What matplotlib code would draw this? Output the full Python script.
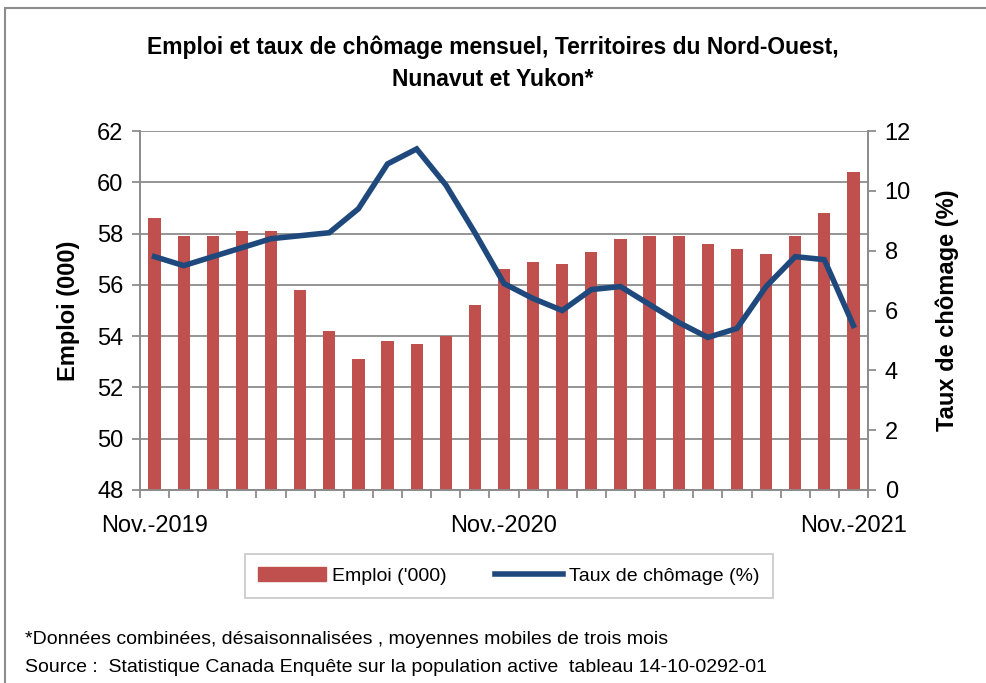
import matplotlib
matplotlib.use("Agg")
import matplotlib.pyplot as plt
import matplotlib.patches as mpatches
from matplotlib.lines import Line2D
import numpy as np

# ── données ────────────────────────────────────────────────────────────────
mois = ["Nov.-2019", "Déc.-2019", "Jan.-2020", "Fév.-2020", "Mars-2020", "Avr.-2020",
        "Mai-2020", "Juin-2020", "Juil.-2020", "Août-2020", "Sept.-2020", "Oct.-2020",
        "Nov.-2020", "Déc.-2020", "Jan.-2021", "Fév.-2021", "Mars-2021", "Avr.-2021",
        "Mai-2021", "Juin-2021", "Juil.-2021", "Août-2021", "Sept.-2021", "Oct.-2021",
        "Nov.-2021"]
emploi = [58.6, 57.9, 57.9, 58.1, 58.1, 55.8, 54.2, 53.1, 53.8, 53.7, 54.0, 55.2,
          56.6, 56.9, 56.8, 57.3, 57.8, 57.9, 57.9, 57.6, 57.4, 57.2, 57.9, 58.8, 60.4]
chomage = [7.8, 7.5, 7.8, 8.1, 8.4, 8.5, 8.6, 9.4, 10.9, 11.4, 10.2, 8.6,
           6.9, 6.4, 6.0, 6.7, 6.8, 6.2, 5.6, 5.1, 5.4, 6.8, 7.8, 7.7, 5.5]
etiquettes = {0: "Nov.-2019", 12: "Nov.-2020", 24: "Nov.-2021"}

ROUGE = "#C0504D"
BLEU = "#1F497D"
GRIS = "#8C8C8C"

plt.rcParams["font.family"] = ["Liberation Sans", "DejaVu Sans"]

fig = plt.figure(figsize=(9.86, 6.83), dpi=100)
ax = fig.add_axes([140 / 986, 1 - 490 / 683, 728 / 986, 359 / 683])
ax2 = ax.twinx()

x = np.arange(len(mois))
ax.bar(x, emploi, width=0.42, color=ROUGE, zorder=3)
ax2.plot(x, chomage, color=BLEU, linewidth=4, solid_joinstyle="miter", zorder=4)

ax.set_xlim(-0.5, len(mois) - 0.5)
ax.set_ylim(48, 62)
ax.set_yticks(np.arange(48, 63, 2))
ax2.set_ylim(0, 12)
ax2.set_yticks(np.arange(0, 13, 2))
ax.yaxis.grid(True, color=GRIS, linewidth=1.3, zorder=0)
ax.set_axisbelow(True)

# ticks de catégories
ax.set_xticks(np.arange(-0.5, len(mois), 1), minor=True)
ax.set_xticks(list(etiquettes.keys()))
ax.set_xticklabels(list(etiquettes.values()), fontsize=17)
ax.tick_params(axis="x", which="major", length=0, pad=18)
ax.tick_params(axis="x", which="minor", length=6, color=GRIS, width=1.3)
ax.tick_params(axis="y", labelsize=17, length=6, color=GRIS, width=1.3, pad=6)
ax2.tick_params(axis="y", labelsize=17, length=6, color=GRIS, width=1.3, pad=6)

for a in (ax, ax2):
    for s in a.spines.values():
        s.set_color(GRIS)
        s.set_linewidth(1.3)
    a.spines["top"].set_visible(False)

ax.set_ylabel("Emploi (000)", fontsize=17, fontweight="bold", labelpad=12)
ax2.set_ylabel("Taux de chômage (%)", fontsize=17, fontweight="bold", labelpad=18)

fig.text(0.5, 1 - 47 / 683, "Emploi et taux de chômage mensuel, Territoires du Nord-Ouest,",
         ha="center", va="center", fontsize=16.5, fontweight="bold")
fig.text(0.5, 1 - 80 / 683, "Nunavut et Yukon*",
         ha="center", va="center", fontsize=16.5, fontweight="bold")

# légende
poignees = [mpatches.Patch(color=ROUGE, label="Emploi ('000)"),
            Line2D([0], [0], color=BLEU, linewidth=4, label="Taux de chômage (%)")]
leg = fig.legend(handles=poignees, loc="center", bbox_to_anchor=(509 / 986, 1 - 576 / 683),
                 ncol=2, fontsize=14, frameon=True, fancybox=False, edgecolor="#BFBFBF",
                 handlelength=3.5, columnspacing=2.5, borderpad=0.7, handletextpad=0.3,
                 borderaxespad=0)
leg.get_frame().set_linewidth(1.3)

fig.text(25 / 986, 1 - 640 / 683,
         "*Données combinées, désaisonnalisées , moyennes mobiles de trois mois",
         ha="left", va="center", fontsize=14)
fig.text(25 / 986, 1 - 668 / 683,
         "Source :  Statistique Canada Enquête sur la population active  tableau 14-10-0292-01",
         ha="left", va="center", fontsize=14)

# cadre
fig.patches.append(mpatches.Rectangle((5 / 986, -0.05), 1.2, 1 - 8 / 683 + 0.05,
                                      transform=fig.transFigure, fill=False,
                                      edgecolor=GRIS, linewidth=1.5))

fig.savefig("out.png", dpi=100)
